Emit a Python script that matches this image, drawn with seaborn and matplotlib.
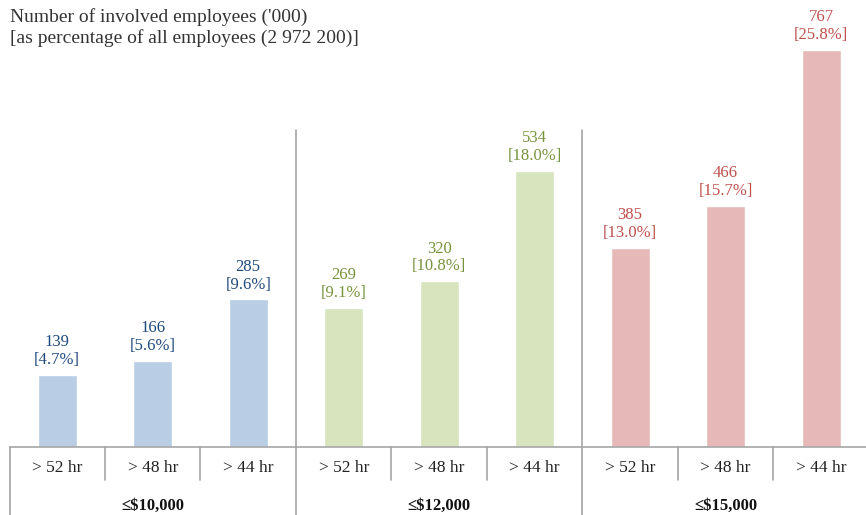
import matplotlib
matplotlib.use("Agg")
import matplotlib.pyplot as plt
import seaborn as sns
import pandas as pd

sns.set_theme(style="white")
plt.rcParams['font.family'] = ['Liberation Serif', 'DejaVu Serif']

hours = ["> 52 hr", "> 48 hr", "> 44 hr"]
groups = ["\u2264$10,000", "\u2264$12,000", "\u2264$15,000"]
values = [139, 166, 285, 269, 320, 534, 385, 466, 767]
pcts = [4.7, 5.6, 9.6, 9.1, 10.8, 18.0, 13.0, 15.7, 25.8]
bar_colors = ["#b9cde5", "#d7e4bd", "#e6b9b8"]
text_colors = ["#1f497d", "#77933c", "#c0504d"]

slots = [f"{g}|{h}" for g in groups for h in hours]
df = pd.DataFrame({
    "slot": slots,
    "group": [g for g in groups for _ in hours],
    "value": values,
})

fig = plt.figure(figsize=(8.66, 5.15), dpi=100)
W, H = 866, 515
base_px = 447
ax = fig.add_axes([9.5 / W, (H - base_px) / H, 1 - 9.5 / W, base_px / H])

sns.barplot(data=df, x="slot", y="value", hue="group", order=slots,
            palette=bar_colors, width=0.41, dodge=False, legend=False,
            saturation=1, ax=ax)

ax.set_xlim(-0.5, 8.47)
ymax = 767 * base_px / (base_px - 50)
ax.set_ylim(0, ymax)
ax.set_yticks([])
ax.set_ylabel("")
ax.set_xlabel("")
for s in ["top", "right", "left"]:
    ax.spines[s].set_visible(False)
ax.spines["bottom"].set_color("#a6a6a6")
ax.spines["bottom"].set_linewidth(1.2)

ax.set_xticks(range(len(slots)))
ax.set_xticklabels([h for _ in groups for h in hours], fontsize=12.5, color="#222222")
ax.tick_params(axis="x", length=0, pad=9)

# value labels
for i, (v, p) in enumerate(zip(values, pcts)):
    c = text_colors[i // 3]
    ax.annotate(f"{v}\n[{p:.1f}%]", xy=(i, v), xytext=(0, 5),
                textcoords="offset points", ha="center", va="bottom",
                fontsize=12, color=c, linespacing=1.15)

xt = ax.get_xaxis_transform()
line_c = "#a6a6a6"
# tick dividers within groups
for x in [0.5, 1.5, 3.5, 4.5, 6.5, 7.5]:
    ax.plot([x, x], [0, -33 / base_px], transform=xt, color=line_c, lw=1.2, clip_on=False)
# left border
ax.plot([-0.5, -0.5], [0, -70 / base_px], transform=xt, color=line_c, lw=1.2, clip_on=False)
# group separators
sep_top = ymax * (base_px - 130) / base_px
for x in [2.5, 5.5]:
    ax.plot([x, x], [sep_top, -0.16 * ymax], color=line_c, lw=1.2, clip_on=False)

# group labels
for gi, g in enumerate(groups):
    ax.text(gi * 3 + 1, -(506 - base_px) / base_px, g, transform=xt,
            ha="center", va="center", fontsize=12, fontweight="bold", color="#111111")

fig.text(10 / W, 1 - 8 / H,
         "Number of involved employees ('000)\n[as percentage of all employees (2 972 200)]",
         ha="left", va="top", fontsize=14, color="#333333", linespacing=1.2)

fig.savefig("out.png", dpi=100)
